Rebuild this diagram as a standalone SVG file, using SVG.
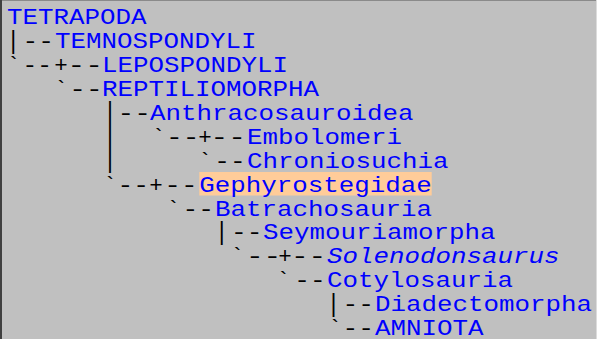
<svg xmlns="http://www.w3.org/2000/svg" width="597" height="339" viewBox="0 0 597 339">
  <style>
    text { font-family: "Liberation Mono", "Courier New", monospace; font-size: 22.5px; }
    .n { fill: #0000ff; }
    .i { font-style: italic; }
    .t { fill: #000000; }
    .c { text-anchor: middle; }
  </style>
  <!-- panel -->
  <rect x="0" y="0" width="597" height="339" fill="#c0c0c0"/>
  <rect x="0" y="0" width="597" height="1" fill="#8a8a8a"/>
  <rect x="0" y="0" width="2" height="339" fill="#404040"/>
  <rect x="596" y="0" width="1" height="339" fill="#dcdcdc"/>

  <!-- tree connectors; vertical bars are stretched a little so stacked ones join -->
  <g id="connectors" class="t">
    <text class="c" transform="translate(13.3,48.6) scale(1,1.14)">|</text>
    <text x="22.6" y="48.2" textLength="31.5" lengthAdjust="spacingAndGlyphs">--</text>

    <text class="c" x="13.5" y="72.1">`</text>
    <text x="22.6" y="72.1" textLength="29.5" lengthAdjust="spacingAndGlyphs">--</text>
    <text class="c" x="61" y="72.1">+</text>
    <text x="67.6" y="72.1" textLength="35.4" lengthAdjust="spacingAndGlyphs">--</text>

    <text class="c" x="61" y="96">`</text>
    <text x="69.3" y="96" textLength="33.4" lengthAdjust="spacingAndGlyphs">--</text>

    <text class="c" transform="translate(110,120.3) scale(1,1.14)">|</text>
    <text x="117.6" y="119.9" textLength="33.4" lengthAdjust="spacingAndGlyphs">--</text>

    <text class="c" transform="translate(110,144.2) scale(1,1.14)">|</text>
    <text class="c" x="158.5" y="143.8">`</text>
    <text x="165.9" y="143.8" textLength="33.5" lengthAdjust="spacingAndGlyphs">--</text>
    <text class="c" x="205" y="143.8">+</text>
    <text x="210.6" y="143.8" textLength="35.4" lengthAdjust="spacingAndGlyphs">--</text>

    <text class="c" transform="translate(110,168.1) scale(1,1.14)">|</text>
    <text class="c" x="205" y="167.7">`</text>
    <text x="214.3" y="167.7" textLength="31.4" lengthAdjust="spacingAndGlyphs">--</text>

    <text class="c" x="110" y="191.6">`</text>
    <text x="117.6" y="191.6" textLength="31.5" lengthAdjust="spacingAndGlyphs">--</text>
    <text class="c" x="156" y="191.6">+</text>
    <text x="164.3" y="191.6" textLength="33.4" lengthAdjust="spacingAndGlyphs">--</text>

    <text class="c" x="173.3" y="215.5">`</text>
    <text x="182.6" y="215.5" textLength="31.5" lengthAdjust="spacingAndGlyphs">--</text>

    <text class="c" transform="translate(221.7,239.8) scale(1,1.14)">|</text>
    <text x="230.9" y="239.4" textLength="31.5" lengthAdjust="spacingAndGlyphs">--</text>

    <text class="c" x="237.3" y="263.3">`</text>
    <text x="245.9" y="263.3" textLength="35.4" lengthAdjust="spacingAndGlyphs">--</text>
    <text class="c" x="285" y="263.3">+</text>
    <text x="290.9" y="263.3" textLength="35.4" lengthAdjust="spacingAndGlyphs">--</text>

    <text class="c" x="283.3" y="287.2">`</text>
    <text x="294.3" y="287.2" textLength="31.4" lengthAdjust="spacingAndGlyphs">--</text>

    <text class="c" transform="translate(333.5,311.5) scale(1,1.14)">|</text>
    <text x="342.6" y="311.1" textLength="31.5" lengthAdjust="spacingAndGlyphs">--</text>

    <text class="c" x="335" y="334.6">`</text>
    <text x="342.6" y="334.6" textLength="31.5" lengthAdjust="spacingAndGlyphs">--</text>
  </g>

  <!-- taxa -->
  <g id="tetrapoda"><text class="n" x="7" y="24.3" textLength="139.5" lengthAdjust="spacingAndGlyphs">TETRAPODA</text></g>
  <g id="temnospondyli"><text class="n" x="55" y="48.2" textLength="201.5" lengthAdjust="spacingAndGlyphs">TEMNOSPONDYLI</text></g>
  <g id="lepospondyli"><text class="n" x="102" y="72.1" textLength="186" lengthAdjust="spacingAndGlyphs">LEPOSPONDYLI</text></g>
  <g id="reptiliomorpha"><text class="n" x="102" y="96" textLength="217" lengthAdjust="spacingAndGlyphs">REPTILIOMORPHA</text></g>
  <g id="anthracosauroidea"><text class="n" x="150" y="119.9" textLength="263.5" lengthAdjust="spacingAndGlyphs">Anthracosauroidea</text></g>
  <g id="embolomeri"><text class="n" x="247" y="143.8" textLength="155" lengthAdjust="spacingAndGlyphs">Embolomeri</text></g>
  <g id="chroniosuchia"><text class="n" x="247" y="167.7" textLength="201.5" lengthAdjust="spacingAndGlyphs">Chroniosuchia</text></g>
  <g id="gephyrostegidae">
    <rect x="199.3" y="172" width="232.4" height="23.5" fill="#ffcc99"/>
    <text class="n" x="199.3" y="191.6" textLength="232.4" lengthAdjust="spacingAndGlyphs">Gephyrostegidae</text>
  </g>
  <g id="batrachosauria"><text class="n" x="215" y="215.5" textLength="217" lengthAdjust="spacingAndGlyphs">Batrachosauria</text></g>
  <g id="seymouriamorpha"><text class="n" x="263" y="239.4" textLength="232.5" lengthAdjust="spacingAndGlyphs">Seymouriamorpha</text></g>
  <g id="solenodonsaurus"><text class="n i" x="327" y="263.3" textLength="232.5" lengthAdjust="spacingAndGlyphs">Solenodonsaurus</text></g>
  <g id="cotylosauria"><text class="n" x="327" y="287.2" textLength="186" lengthAdjust="spacingAndGlyphs">Cotylosauria</text></g>
  <g id="diadectomorpha"><text class="n" x="375" y="311.1" textLength="217" lengthAdjust="spacingAndGlyphs">Diadectomorpha</text></g>
  <g id="amniota"><text class="n" x="375" y="334.6" textLength="108.5" lengthAdjust="spacingAndGlyphs">AMNIOTA</text></g>
</svg>
